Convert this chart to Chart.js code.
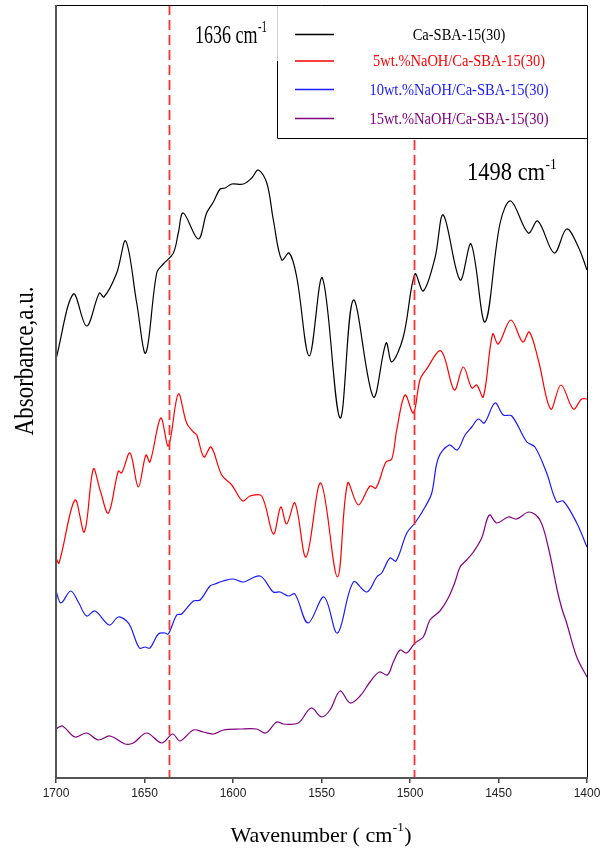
<!DOCTYPE html>
<html>
<head>
<meta charset="utf-8">
<title>FTIR spectra</title>
<script src="https://cdn.jsdelivr.net/npm/chart.js@4.4.0/dist/chart.umd.min.js"></script>
<style>
  html, body { margin: 0; padding: 0; background: #ffffff; overflow: hidden; }
  canvas { display: block; }
</style>
</head>
<body>
<canvas id="ftir" width="605" height="849"></canvas>
<script>
// ---- Spectra (wavenumber in cm-1, absorbance in arbitrary offset units) ----
const seriesNames = [
  'Ca-SBA-15(30)',
  '5wt.%NaOH/Ca-SBA-15(30)',
  '10wt.%NaOH/Ca-SBA-15(30)',
  '15wt.%NaOH/Ca-SBA-15(30)'
];

const caSbaWn = [1700,1690.2,1682.7,1675.5,1672.9,1665.7,1660.6,1654.4,1649.3,1643.1,1639.4,1633.7,1630.9,1628.1,1619.6,1614.9,1611.1,1607.3,1604.5,1600.7,1594.2,1589.4,1585.7,1580.9,1577.2,1572.5,1568.2,1564.0,1556.9,1549.5,1539.5,1532.0,1520.7,1513.5,1510.3,1503.8,1497.2,1492.5,1485.9,1481.2,1471.7,1465.5,1457.6,1449.1,1443.1,1433.2,1427.8,1418.5,1411.5,1404.9,1400];
const caSbaAbs = [4.19,4.84,4.52,4.85,4.81,5.05,5.37,4.75,4.25,5.05,5.14,5.25,5.45,5.65,5.39,5.65,5.76,5.89,5.90,5.94,5.94,6.00,6.08,5.95,5.58,5.18,5.25,5.01,4.22,5.00,3.60,4.78,3.81,4.35,4.16,4.41,5.04,4.87,5.20,5.63,4.98,5.34,4.56,5.55,5.77,5.45,5.57,5.25,5.49,5.31,5.08];

const naoh5Wn = [1700,1698.3,1689.3,1684.0,1678.9,1675.1,1670.4,1664.8,1662.9,1658.2,1653.5,1649.2,1646.9,1640.8,1636.5,1630.9,1626.2,1622.4,1620.5,1616.4,1612.4,1606.4,1600.7,1594.5,1590.4,1583.8,1577.2,1573.0,1569.7,1565.0,1558.7,1550.4,1541.0,1535.2,1529.2,1522.6,1519.2,1513.6,1510.3,1507.5,1502.8,1498.1,1494.4,1491.0,1482.5,1475.0,1469.9,1465.1,1462.3,1458.6,1453.3,1450.1,1443.0,1436.3,1432.6,1427.5,1420.5,1414.7,1407.7,1403.0,1400];
const naoh5Abs = [2.20,2.15,2.78,2.46,3.09,2.88,2.65,3.07,3.05,3.25,2.91,3.23,3.16,3.60,3.32,3.84,3.55,3.46,3.43,3.21,3.31,3.03,2.93,2.77,2.82,2.82,2.44,2.71,2.54,2.75,2.21,2.95,2.01,2.95,2.73,2.92,2.90,3.16,3.19,3.48,3.83,3.65,3.98,4.08,4.27,3.88,4.11,3.90,3.93,3.81,4.44,4.34,4.58,4.36,4.46,4.18,3.69,3.93,3.69,3.79,3.79];

const naoh10Wn = [1700,1697.2,1691.7,1687.4,1682.7,1678.0,1669.9,1664.8,1660.1,1657.8,1652.9,1649.7,1646.9,1642.2,1638.4,1636.5,1631.8,1629.0,1622.4,1618.6,1613.0,1610.2,1605.5,1599.8,1594.2,1584.7,1577.2,1573.4,1568.7,1565.0,1557.6,1548.6,1541.0,1532.0,1524.4,1518.8,1516.0,1511.3,1507.9,1501.8,1497.2,1491.5,1487.7,1484.0,1477.8,1473.3,1468.9,1465.1,1461.4,1458.0,1452.0,1447.3,1442.5,1434.0,1429.4,1422.8,1417.1,1413.4,1405.8,1400];
const naoh10Abs = [1.87,1.75,1.87,1.76,1.62,1.67,1.53,1.61,1.57,1.51,1.30,1.31,1.30,1.44,1.45,1.44,1.63,1.64,1.77,1.78,1.92,1.94,1.97,1.99,1.96,2.02,1.86,1.86,1.82,1.84,1.55,1.81,1.45,1.96,1.86,2.01,2.05,2.20,2.17,2.45,2.55,2.71,2.85,3.20,3.33,3.28,3.43,3.51,3.59,3.55,3.75,3.63,3.62,3.36,3.31,3.05,2.76,2.77,2.55,2.31];

const naoh15Wn = [1700,1696.4,1689.3,1682.7,1676.1,1669.5,1661.0,1656.3,1648.8,1640.3,1634.1,1629.9,1622.4,1616.8,1611.1,1605.5,1596.0,1586.6,1581.4,1575.3,1571.6,1563.1,1555.9,1549.9,1545.2,1539.5,1533.9,1528.2,1522.6,1517.3,1512.8,1509.4,1505.6,1501.9,1497.2,1492.5,1488.7,1483.1,1478.4,1474.6,1471.7,1468.0,1464.2,1459.5,1455.2,1451.0,1444.5,1439.8,1432.6,1426.6,1421.9,1417.1,1414.3,1411.5,1405.8,1400];
const naoh15Abs = [0.49,0.52,0.41,0.45,0.38,0.42,0.34,0.35,0.45,0.35,0.44,0.37,0.48,0.46,0.44,0.48,0.49,0.49,0.45,0.56,0.54,0.55,0.70,0.61,0.68,0.87,0.75,0.82,0.96,1.06,1.03,1.16,1.28,1.25,1.35,1.41,1.58,1.67,1.80,1.96,2.11,2.18,2.26,2.40,2.63,2.55,2.61,2.59,2.66,2.58,2.31,1.90,1.70,1.55,1.21,1.01];

const xTickValues = [1700, 1650, 1600, 1550, 1500, 1450, 1400];

// Reference bands marked with dashed lines, and their labels
const bandWavenumbers = [1636, 1498];
const bandLabels = ['1636 cm', '1498 cm'];

// ---- Styling ----
const seriesColors = ['#000000', '#ff0000', '#1a1aff', '#800080'];
const SERIF = '"Liberation Serif", "Times New Roman", serif';
const SANS = '"Liberation Sans", Arial, sans-serif';

function toPoints(wn, ab) {
  const n = Math.min(wn.length, ab.length);
  const pts = [];
  for (let i = 0; i < n; i++) pts.push({ x: wn[i], y: ab[i] });
  return pts;
}

const spectra = [
  toPoints(caSbaWn, caSbaAbs),
  toPoints(naoh5Wn, naoh5Abs),
  toPoints(naoh10Wn, naoh10Abs),
  toPoints(naoh15Wn, naoh15Abs)
];

// Text helper: draws text with an optional vertical stretch
function stretchText(ctx, str, x, y, size, sy, color, align, baseline) {
  ctx.save();
  ctx.translate(x, y);
  ctx.scale(1, sy);
  ctx.font = size + 'px ' + SERIF;
  ctx.fillStyle = color;
  ctx.textAlign = align || 'left';
  ctx.textBaseline = baseline || 'alphabetic';
  ctx.fillText(str, 0, 0);
  ctx.restore();
}

// "xxxx cm" followed by a raised "-1"
function labelWithSup(ctx, main, x, y, size, sy, color) {
  ctx.save();
  ctx.font = size + 'px ' + SERIF;
  const w = ctx.measureText(main).width;
  ctx.restore();
  stretchText(ctx, main, x, y, size, sy, color, 'left');
  stretchText(ctx, '-1', x + w + 0.5, y - size * 0.42 * sy, size * 0.6, sy, color, 'left');
}

const decorPlugin = {
  id: 'decor',
  afterDatasetsDraw(chart) {
    const { ctx, chartArea: a, scales } = chart;
    const xs = scales.x;

    // dashed band markers
    ctx.save();
    ctx.beginPath();
    ctx.rect(a.left, a.top, a.right - a.left, a.bottom - a.top);
    ctx.clip();
    ctx.strokeStyle = '#ff3030';
    ctx.lineWidth = 1.8;
    ctx.setLineDash([10, 5]);
    bandWavenumbers.forEach(v => {
      const px = Math.round(xs.getPixelForValue(v)) + 0.5;
      ctx.beginPath();
      ctx.moveTo(px, a.top);
      ctx.lineTo(px, a.bottom);
      ctx.stroke();
    });
    ctx.restore();

    // legend box
    const lx = 277, ly = a.top, lr = a.right, lb = 138;
    ctx.save();
    ctx.fillStyle = '#ffffff';
    ctx.fillRect(lx, ly, lr - lx, lb - ly);
    ctx.lineWidth = 1;
    ctx.strokeStyle = '#d0d0d0';
    ctx.beginPath();
    ctx.moveTo(lx + 0.5, ly);
    ctx.lineTo(lx + 0.5, 61);
    ctx.stroke();
    ctx.strokeStyle = '#000000';
    ctx.beginPath();
    ctx.moveTo(lx + 0.5, 61);
    ctx.lineTo(lx + 0.5, lb + 0.5);
    ctx.lineTo(lr, lb + 0.5);
    ctx.stroke();
    const rowsY = [34.5, 61, 89.5, 118.5];
    seriesNames.forEach((name, i) => {
      ctx.strokeStyle = seriesColors[i];
      ctx.lineWidth = 1.3;
      ctx.beginPath();
      ctx.moveTo(295, rowsY[i]);
      ctx.lineTo(334, rowsY[i]);
      ctx.stroke();
      stretchText(ctx, name, 459, rowsY[i] + 1, 14.5, 1.1, seriesColors[i], 'center', 'middle');
    });
    ctx.restore();

    // band labels
    labelWithSup(ctx, bandLabels[0], 195, 43, 18, 1.45, '#000000');
    labelWithSup(ctx, bandLabels[1], 467, 180, 22.5, 1.15, '#000000');

    // frame
    ctx.save();
    ctx.strokeStyle = '#000000';
    ctx.lineWidth = 1;
    ctx.beginPath();
    ctx.moveTo(a.left, a.top + 0.5);
    ctx.lineTo(a.right + 0.5, a.top + 0.5);
    ctx.lineTo(a.right + 0.5, a.bottom);
    ctx.stroke();
    ctx.strokeStyle = '#555555';
    ctx.lineWidth = 2;
    ctx.beginPath();
    ctx.moveTo(a.left, a.top);
    ctx.lineTo(a.left, a.bottom);
    ctx.lineTo(a.right + 1, a.bottom);
    ctx.stroke();
    ctx.restore();
  },
  afterDraw(chart) {
    const { ctx, chartArea: a } = chart;
    // y-axis title
    ctx.save();
    ctx.translate(33, 361);
    ctx.rotate(-Math.PI / 2);
    ctx.scale(1, 1.2);
    ctx.font = '23px ' + SERIF;
    ctx.fillStyle = '#000000';
    ctx.textAlign = 'center';
    ctx.textBaseline = 'alphabetic';
    ctx.fillText('Absorbance,a.u.', 0, 0);
    ctx.restore();

    // x-axis title
    ctx.save();
    const size = 22;
    ctx.font = size + 'px ' + SERIF;
    const part1 = 'Wavenumber ( cm';
    const w1 = ctx.measureText(part1).width;
    ctx.font = (size * 0.6) + 'px ' + SERIF;
    const wSup = ctx.measureText('-1').width;
    ctx.font = size + 'px ' + SERIF;
    const w3 = ctx.measureText(')').width;
    const total = w1 + wSup + w3 + 1;
    const x0 = 321 - total / 2;
    const base = 842;
    ctx.fillStyle = '#000000';
    ctx.textAlign = 'left';
    ctx.textBaseline = 'alphabetic';
    ctx.fillText(part1, x0, base);
    ctx.font = (size * 0.6) + 'px ' + SERIF;
    ctx.fillText('-1', x0 + w1 + 0.5, base - size * 0.5);
    ctx.font = size + 'px ' + SERIF;
    ctx.fillText(')', x0 + w1 + wSup + 1, base);
    ctx.restore();
  }
};

new Chart(document.getElementById('ftir'), {
  type: 'line',
  data: {
    datasets: spectra.map((pts, i) => ({
      label: seriesNames[i],
      data: pts,
      borderColor: seriesColors[i],
      borderWidth: 1.2,
      pointRadius: 0,
      fill: false,
      tension: 0.35
    }))
  },
  options: {
    responsive: false,
    devicePixelRatio: 1,
    animation: false,
    layout: { padding: { left: 0, top: 5, right: 18, bottom: 0 } },
    plugins: { legend: { display: false }, title: { display: false }, tooltip: { enabled: false } },
    scales: {
      x: {
        type: 'linear',
        reverse: true,
        min: 1400,
        max: 1700,
        afterBuildTicks(scale) { scale.ticks = xTickValues.map(v => ({ value: v })); },
        afterFit(scale) { scale.height = 71; },
        border: { display: false },
        grid: { drawOnChartArea: false, drawTicks: true, tickLength: 5, color: '#444444', lineWidth: 1.5 },
        ticks: {
          font: { family: SANS, size: 12 },
          color: '#222222',
          padding: 3,
          maxRotation: 0,
          callback: v => String(v)
        }
      },
      y: {
        type: 'linear',
        min: 0,
        max: 7.73,
        afterFit(scale) { scale.width = 56; },
        border: { display: false },
        grid: { display: false },
        ticks: { display: false }
      }
    }
  },
  plugins: [decorPlugin]
});
</script>
</body>
</html>
